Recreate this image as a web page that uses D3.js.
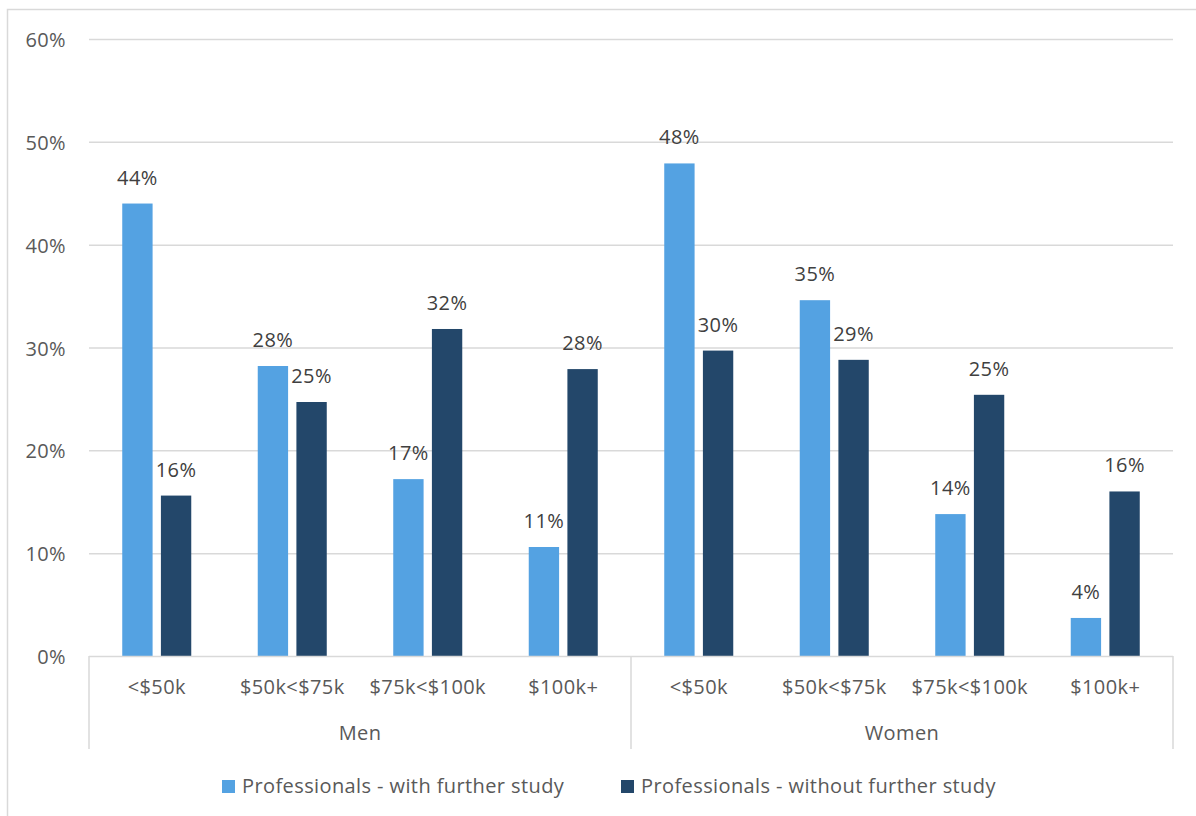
<!DOCTYPE html>
<html>
<head>
<meta charset="utf-8">
<script src="https://cdn.jsdelivr.net/npm/d3@7"></script>
<style>
  html, body { margin: 0; padding: 0; background: #ffffff; }
  svg { display: block; font-family: "Open Sans", "Noto Sans", sans-serif; }
  svg text { font-size: 20px; letter-spacing: 0.4px; }
</style>
</head>
<body>
<svg id="chart" width="1196" height="816"></svg>
<script>
// Income bands within each gender group
const groups = ["Men", "Women"];
const incomeBands = ["<$50k", "$50k<$75k", "$75k<$100k", "$100k+"];

// Series
const seriesNames = ["Professionals - with further study", "Professionals - without further study"];
const seriesColors = ["#54A2E2", "#23476A"];

// Shares per band, Men first then Women
const withStudy    = [0.440, 0.282, 0.172, 0.106, 0.479, 0.346, 0.138, 0.037];
const withoutStudy = [0.156, 0.247, 0.318, 0.279, 0.297, 0.288, 0.254, 0.160];

// Y axis ticks
const yTicks = [0, 0.1, 0.2, 0.3, 0.4, 0.5, 0.6];

const rows = [];
groups.forEach((g, gi) => {
  incomeBands.forEach((b, bi) => {
    const i = gi * incomeBands.length + bi;
    rows.push({ key: g + "|" + b, group: g, band: b, values: [withStudy[i], withoutStudy[i]] });
  });
});

const svg = d3.select("#chart");
const pct = d3.format(".0%");

// Outer chart frame
svg.append("rect")
  .attr("x", 7.5).attr("y", 9.5)
  .attr("width", 1200).attr("height", 820)
  .attr("fill", "none").attr("stroke", "#d9d9d9").attr("stroke-width", 1.5);

const plot = { left: 89, right: 1173, top: 39, bottom: 656 };

const x0 = d3.scaleBand()
  .domain(rows.map(d => d.key))
  .range([plot.left, plot.right]);

const x1 = d3.scaleBand()
  .domain(d3.range(seriesNames.length))
  .range([0, x0.bandwidth()])
  .paddingInner(0.215)
  .paddingOuter(0.86);

const y = d3.scaleLinear().domain([0, 0.6]).range([plot.bottom, plot.top]);

// Gridlines
svg.append("g")
  .selectAll("line")
  .data(yTicks.filter(t => t > 0))
  .join("line")
  .attr("x1", plot.left).attr("x2", plot.right)
  .attr("y1", d => y(d) + 0.5).attr("y2", d => y(d) + 0.5)
  .attr("stroke", "#d9d9d9").attr("stroke-width", 1.5);

// Y axis labels
const yAxis = d3.axisLeft(y)
  .tickValues(yTicks)
  .tickFormat(pct)
  .tickSize(0)
  .tickPadding(23);
const yg = svg.append("g").attr("transform", `translate(${plot.left},0)`).call(yAxis);
yg.select(".domain").remove();
yg.selectAll("text")
  .attr("fill", "#595959")
  .attr("dy", "0.38em")
  .style("font-size", "20px")
  .style("font-family", "'Open Sans', 'Noto Sans', sans-serif");

// Bars
const barGroups = svg.append("g")
  .selectAll("g")
  .data(rows)
  .join("g")
  .attr("transform", d => `translate(${x0(d.key)},0)`);

barGroups.selectAll("rect")
  .data(d => d.values.map((v, i) => ({ v, i })))
  .join("rect")
  .attr("x", d => x1(d.i))
  .attr("width", x1.bandwidth())
  .attr("y", d => y(d.v))
  .attr("height", d => y(0) - y(d.v))
  .attr("fill", d => seriesColors[d.i]);

// Value labels
barGroups.selectAll("text")
  .data(d => d.values.map((v, i) => ({ v, i })))
  .join("text")
  .attr("x", d => x1(d.i) + x1.bandwidth() / 2)
  .attr("y", d => y(d.v) - 19)
  .attr("text-anchor", "middle")
  .attr("fill", "#404040")
  .text(d => pct(d.v));

// X axis baseline and group separators
svg.append("line")
  .attr("x1", plot.left).attr("x2", plot.right)
  .attr("y1", plot.bottom + 0.5).attr("y2", plot.bottom + 0.5)
  .attr("stroke", "#d9d9d9").attr("stroke-width", 1.5);

const sepX = [plot.left, (plot.left + plot.right) / 2, plot.right];
svg.append("g")
  .selectAll("line")
  .data(sepX)
  .join("line")
  .attr("x1", d => d).attr("x2", d => d)
  .attr("y1", plot.bottom).attr("y2", 749)
  .attr("stroke", "#d9d9d9").attr("stroke-width", 1.5);

// Band labels
const xAxis = d3.axisBottom(x0)
  .tickFormat(k => k.split("|")[1])
  .tickSize(0)
  .tickPadding(24);
const xg = svg.append("g").attr("transform", `translate(0,${plot.bottom})`).call(xAxis);
xg.select(".domain").remove();
xg.selectAll("text")
  .attr("fill", "#595959")
  .style("font-size", "20px")
  .style("font-family", "'Open Sans', 'Noto Sans', sans-serif");

// Group labels
const groupScale = d3.scaleBand().domain(groups).range([plot.left, plot.right]);
svg.append("g")
  .selectAll("text")
  .data(groups)
  .join("text")
  .attr("x", d => groupScale(d) + groupScale.bandwidth() / 2)
  .attr("y", 740)
  .attr("text-anchor", "middle")
  .attr("fill", "#595959")
  .text(d => d);

// Legend
const legendX = [222, 621];
const legend = svg.append("g")
  .selectAll("g")
  .data(seriesNames)
  .join("g")
  .attr("transform", (d, i) => `translate(${legendX[i]},780)`);
legend.append("rect")
  .attr("width", 13).attr("height", 13)
  .attr("fill", (d, i) => seriesColors[i]);
legend.append("text")
  .attr("x", 20).attr("y", 12.5)
  .attr("fill", "#595959")
  .text(d => d);
</script>
</body>
</html>
